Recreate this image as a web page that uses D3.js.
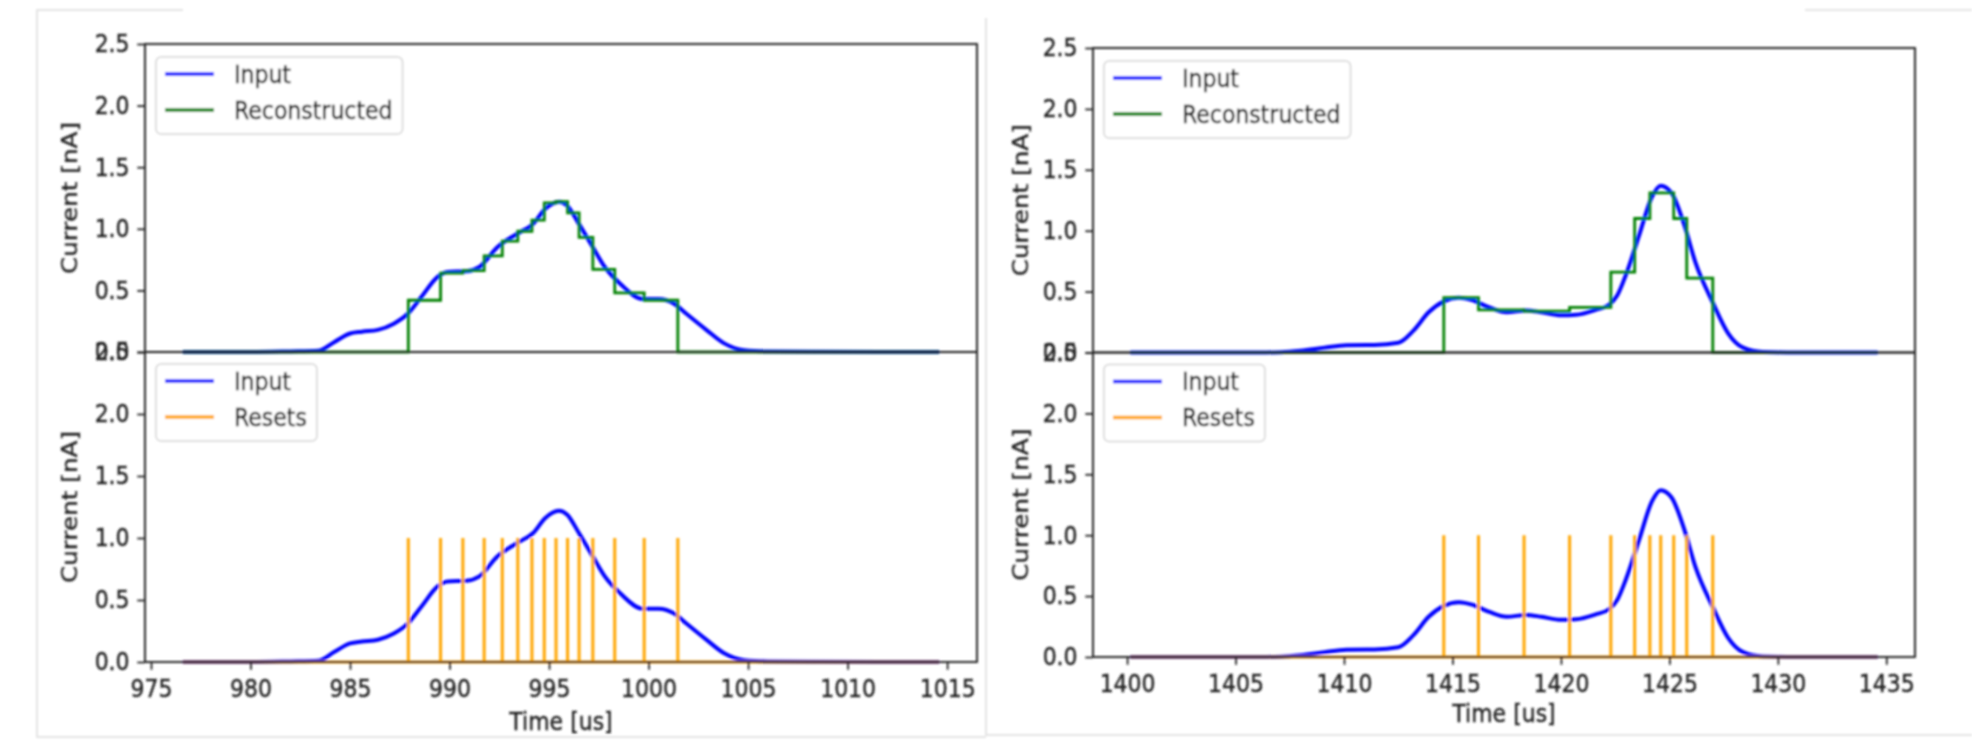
<!DOCTYPE html>
<html>
<head>
<meta charset="utf-8">
<script src="https://cdn.jsdelivr.net/npm/d3@7"></script>
<style>
  html, body { margin: 0; padding: 0; background: #ffffff; }
  svg { display: block; }
  text { font-family: "DejaVu Sans", sans-serif; }
</style>
</head>
<body>
<script>
// ---- Event 1 (left figure) ----
const leftTime  = [976.6, 980, 982, 983.4, 984.2, 985.0, 985.6, 986.4, 987.2, 987.9, 988.6, 989.4, 989.9,
                   990.85, 991.5, 992.4, 993.4, 994.2, 994.8, 995.5, 995.9, 996.5, 997.2, 997.8, 998.6,
                   999.7, 1000.5, 1001.3, 1001.9, 1002.9, 1003.8, 1004.8, 1006, 1008, 1014.6];
const leftInput = [0, 0, 0.005, 0.01, 0.08, 0.15, 0.165, 0.18, 0.23, 0.31, 0.45, 0.61, 0.65,
                   0.655, 0.69, 0.85, 0.96, 1.04, 1.16, 1.22, 1.19, 1.04, 0.85, 0.69, 0.55,
                   0.43, 0.43, 0.39, 0.31, 0.18, 0.07, 0.015, 0.005, 0.002, 0];
const leftResets = [987.93, 989.55, 990.67, 991.74, 992.65, 993.43, 994.14, 994.76, 995.35,
                    995.93, 996.51, 997.2, 998.3, 999.78, 1001.47];
// level held between consecutive resets
const leftLevels = [0.42, 0.64, 0.66, 0.78, 0.90, 0.98, 1.07, 1.21, 1.22, 1.13, 0.93, 0.67, 0.48, 0.42];
const leftTicks  = [975, 980, 985, 990, 995, 1000, 1005, 1010, 1015];

// ---- Event 2 (right figure) ----
const rightTime  = [1400.15, 1406, 1407.1, 1408.0, 1409.1, 1410.1, 1411.4, 1412.5, 1413.2, 1413.9, 1414.6,
                    1415.3, 1415.9, 1416.7, 1417.5, 1418.4, 1419.1, 1420.0, 1420.7, 1421.6, 1422.2,
                    1422.6, 1423.0, 1423.6, 1424.2, 1424.6, 1425.1, 1425.7, 1426.2, 1427.0, 1427.7,
                    1428.4, 1429.3, 1431, 1434.6];
const rightInput = [0, 0, 0.003, 0.015, 0.04, 0.06, 0.062, 0.08, 0.18, 0.33, 0.42,
                    0.45, 0.43, 0.37, 0.33, 0.345, 0.33, 0.305, 0.31, 0.35, 0.39,
                    0.47, 0.64, 0.96, 1.28, 1.37, 1.31, 1.04, 0.74, 0.41, 0.16,
                    0.04, 0.005, 0, 0];
const rightResets = [1414.6, 1416.2, 1418.3, 1420.4, 1422.3, 1423.4, 1424.1, 1424.6, 1425.2, 1425.8, 1427.0];
const rightLevels = [0.45, 0.35, 0.34, 0.37, 0.66, 1.10, 1.31, 1.31, 1.10, 0.61];
const rightTicks  = [1400, 1405, 1410, 1415, 1420, 1425, 1430, 1435];

const currentTicks = [0, 0.5, 1.0, 1.5, 2.0, 2.5];
const yLabel = "Current [nA]";
const xLabel = "Time [us]";

// ---- styling ----
const FONT = 22;
const STRETCH = 1.12;          // glyphs are a little taller than wide
const TICK = 7.7, PAD = 7.7;
const BLUE = "#0000ff", GREEN = "#008000", ORANGE = "#ffa500", INK = "#222222";

const W = 1972, H = 741;
const svg = d3.select("body").append("svg").attr("width", W).attr("height", H);

const defs = svg.append("defs");
defs.append("filter").attr("id", "soft")
  .attr("x", "-2%").attr("y", "-2%").attr("width", "104%").attr("height", "104%")
  .append("feGaussianBlur").attr("stdDeviation", 0.8);

const root = svg.append("g").attr("filter", "url(#soft)");

// page borders around each figure
const frame = root.append("g").attr("stroke", "#dcdcdc").attr("stroke-width", 1.5).attr("fill", "none");
frame.append("path").attr("d", "M183,10 H37 V737 H986");
frame.append("path").attr("d", "M986,18 V735 H1972");
frame.append("path").attr("d", "M1805,10 H1972");

const figures = [
  { left: 145, right: 977, top: 44, mid: 352, bottom: 662, labelX: 69, xLabelGap: 68,
    time: leftTime, input: leftInput, resets: leftResets, levels: leftLevels, ticks: leftTicks },
  { left: 1093, right: 1915, top: 48, mid: 352.5, bottom: 657, labelX: 1020, xLabelGap: 65,
    time: rightTime, input: rightInput, resets: rightResets, levels: rightLevels, ticks: rightTicks }
];

// horizontal text drawn at (x, y) with a slight vertical stretch
function tallText(sel, x, y) {
  sel.attr("x", 0).attr("y", 0)
    .attr("transform", `translate(${x},${y}) scale(1,${STRETCH})`)
    .attr("stroke", INK).attr("stroke-width", 0.35);
}

function styleAxis(g) {
  g.select(".domain").remove();
  g.selectAll(".tick line").attr("stroke", INK).attr("stroke-width", 1.8);
  g.selectAll(".tick text").each(function () {
    const t = d3.select(this);
    const x = +t.attr("x") || 0, y = +t.attr("y") || 0;
    t.attr("fill", INK).attr("font-size", FONT).attr("font-family", "DejaVu Sans, sans-serif");
    tallText(t, x, y);
  });
}

function legend(g, x, y, items) {
  const lg = g.append("g").attr("transform", `translate(${x},${y})`);
  const box = lg.append("rect").attr("rx", 5).attr("ry", 5)
    .attr("fill", "#ffffff").attr("fill-opacity", 0.8)
    .attr("stroke", "#d4d4d4").attr("stroke-width", 1.5);
  let maxW = 0;
  items.forEach((it, i) => {
    const cy = 17 + i * 36;
    lg.append("line").attr("x1", 9).attr("x2", 58).attr("y1", cy).attr("y2", cy)
      .attr("stroke", it.color).attr("stroke-width", 3.6);
    const t = lg.append("text").attr("dy", "0.36em")
      .attr("font-size", FONT).attr("fill", INK).text(it.label);
    tallText(t, 78, cy);
    maxW = Math.max(maxW, t.node().getComputedTextLength());
  });
  box.attr("width", 78 + maxW + 10).attr("height", 77);
}

figures.forEach(f => {
  const t0 = d3.min(f.time), t1 = d3.max(f.time);
  const margin = (t1 - t0) * 0.05;
  const x = d3.scaleLinear().domain([t0 - margin, t1 + margin]).range([f.left, f.right]);
  const yTop = d3.scaleLinear().domain([0, 2.5]).range([f.mid, f.top]);
  const yBot = d3.scaleLinear().domain([0, 2.5]).range([f.bottom, f.mid]);

  const inputPts = f.time.map((t, i) => [t, f.input[i]]);

  // reconstructed step signal: zero, then one level per reset interval, zero after the last reset
  const stepPts = [[t0, 0]];
  f.levels.forEach((v, i) => stepPts.push([f.resets[i], v]));
  stepPts.push([f.resets[f.resets.length - 1], 0]);
  stepPts.push([t1, 0]);

  // reset pulses on a zero baseline
  const resetPts = [[t0, 0]];
  f.resets.forEach(r => { resetPts.push([r, 0], [r, 1], [r, 0]); });
  resetPts.push([t1, 0]);

  // ---- upper panel: input vs reconstructed ----
  const up = root.append("g");
  up.append("path").datum(inputPts)
    .attr("d", d3.line().x(d => x(d[0])).y(d => yTop(d[1])).curve(d3.curveMonotoneX))
    .attr("fill", "none").attr("stroke", BLUE).attr("stroke-width", 4).attr("stroke-linejoin", "round");
  up.append("path").datum(stepPts)
    .attr("d", d3.line().x(d => x(d[0])).y(d => yTop(d[1])).curve(d3.curveStepAfter))
    .attr("fill", "none").attr("stroke", GREEN).attr("stroke-width", 2.8);

  // ---- lower panel: input vs resets ----
  const lo = root.append("g");
  lo.append("path").datum(inputPts)
    .attr("d", d3.line().x(d => x(d[0])).y(d => yBot(d[1])).curve(d3.curveMonotoneX))
    .attr("fill", "none").attr("stroke", BLUE).attr("stroke-width", 4).attr("stroke-linejoin", "round");
  lo.append("path").datum(resetPts)
    .attr("d", d3.line().x(d => x(d[0])).y(d => yBot(d[1])))
    .attr("fill", "none").attr("stroke", ORANGE).attr("stroke-width", 3);

  // ---- axes ----
  [[yTop, f.top, f.mid], [yBot, f.mid, f.bottom]].forEach(([y, a, b]) => {
    root.append("g").attr("transform", `translate(${f.left},0)`)
      .call(d3.axisLeft(y).tickValues(currentTicks).tickFormat(d3.format(".1f"))
        .tickSize(TICK).tickPadding(PAD))
      .call(styleAxis);
    root.append("rect").attr("x", f.left).attr("y", a)
      .attr("width", f.right - f.left).attr("height", b - a)
      .attr("fill", "none").attr("stroke", INK).attr("stroke-width", 1.9);
    root.append("text")
      .attr("transform", `translate(${f.labelX},${(a + b) / 2}) rotate(-90) scale(${STRETCH},1)`)
      .attr("text-anchor", "middle").attr("dy", "0.36em")
      .attr("font-size", FONT).attr("fill", INK)
      .attr("stroke", INK).attr("stroke-width", 0.35).text(yLabel);
  });

  root.append("g").attr("transform", `translate(0,${f.bottom})`)
    .call(d3.axisBottom(x).tickValues(f.ticks).tickFormat(d3.format("d"))
      .tickSize(TICK).tickPadding(PAD + 2))
    .call(styleAxis);
  const xl = root.append("text")
    .attr("text-anchor", "middle").attr("font-size", FONT).attr("fill", INK).text(xLabel);
  tallText(xl, (f.left + f.right) / 2, f.bottom + f.xLabelGap);

  legend(root, f.left + 11, f.top + 13, [
    { label: "Input", color: BLUE }, { label: "Reconstructed", color: GREEN }
  ]);
  legend(root, f.left + 11, f.mid + 12, [
    { label: "Input", color: BLUE }, { label: "Resets", color: ORANGE }
  ]);
});
</script>
</body>
</html>
